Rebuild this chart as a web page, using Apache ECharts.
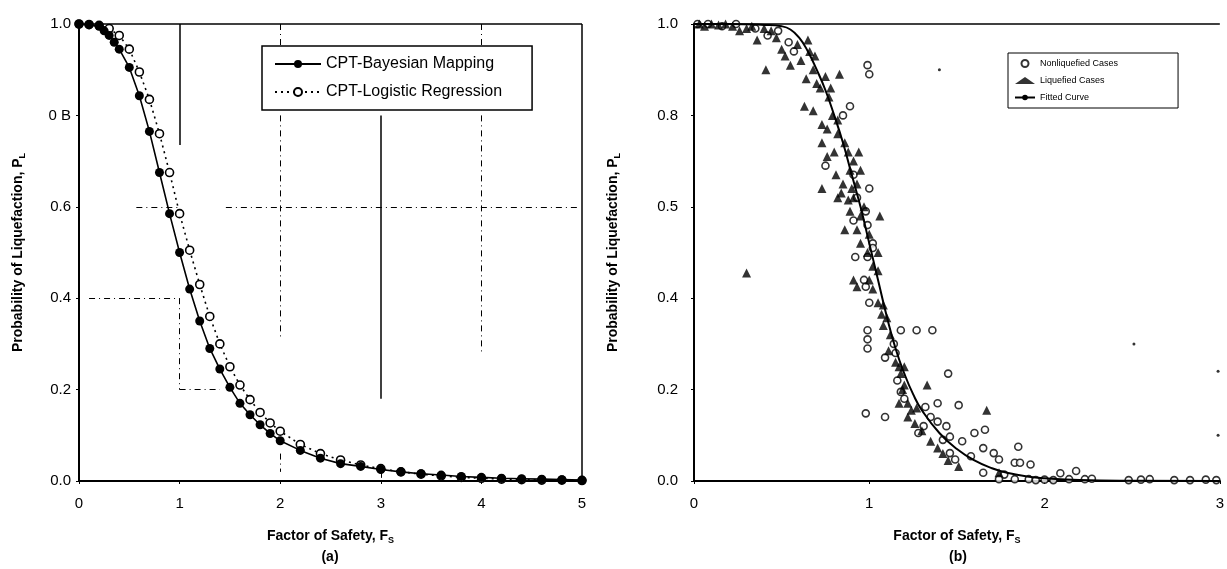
<!DOCTYPE html>
<html>
<head>
<meta charset="utf-8">
<script src="https://cdn.jsdelivr.net/npm/echarts@6/dist/echarts.min.js"></script>
<style>
html,body{margin:0;padding:0;background:#fff}
#chart{width:1227px;height:569px}
</style>
</head>
<body>
<div id="chart"></div>
<script>
// panel (a): CPT-Bayesian mapping vs logistic regression
const bayesFs = [0,0.1,0.2,0.25,0.3,0.35,0.4,0.5,0.6,0.7,0.8,0.9,1.0,1.1,1.2,1.3,1.4,1.5,1.6,1.7,1.8,1.9,2.0,2.2,2.4,2.6,2.8,3.0,3.2,3.4,3.6,3.8,4.0,4.2,4.4,4.6,4.8,5.0];
const bayesPl = [1.0,0.998,0.995,0.985,0.975,0.96,0.945,0.905,0.843,0.765,0.675,0.585,0.5,0.42,0.35,0.29,0.245,0.205,0.17,0.145,0.123,0.104,0.088,0.067,0.05,0.038,0.032,0.025,0.02,0.016,0.013,0.01,0.008,0.006,0.005,0.004,0.003,0.002];
const logFs = [0,0.1,0.2,0.3,0.4,0.5,0.6,0.7,0.8,0.9,1.0,1.1,1.2,1.3,1.4,1.5,1.6,1.7,1.8,1.9,2.0,2.2,2.4,2.6,2.8,3.0,3.2,3.4,3.6,3.8,4.0,4.2,4.4,4.6,4.8,5.0];
const logPl = [1.0,0.999,0.997,0.99,0.975,0.945,0.895,0.835,0.76,0.675,0.585,0.505,0.43,0.36,0.3,0.25,0.21,0.178,0.15,0.127,0.109,0.08,0.06,0.046,0.035,0.027,0.02,0.015,0.011,0.008,0.006,0.004,0.003,0.002,0.002,0.001];
const xTicksA = ['0','1','2','3','4','5'];
const yTicksA = ['0.0','0.2','0.4','0.6','0 B','1.0'];
// scanned grid fragments in (a), data coords [fs1, pl1, fs2, pl2]
const solidSegsA = [[0,1,5,1],[5,1,5,0],[3,0.8,3,0.18],[1,1,1,0.735]];
const dashedSegsA = [[0.57,0.6,1,0.6],[1.46,0.6,4.95,0.6],[0.1,0.4,1,0.4],[1,0.4,1,0.2],[1,0.2,1.4,0.2],[2,1,2,0.95],[2,0.8,2,0.31],[2,0.06,2,0.02],[4,1,4,0.95],[4,0.8,4,0.28],[3,0.02,3,0]];

// panel (b): case histories and fitted curve
const liquefied = [[0.03,1],[0.06,0.995],[0.1,1],[0.14,0.998],[0.18,1],[0.22,0.995],[0.26,0.985],[0.3,0.99],[0.33,0.995],[0.36,0.965],[0.4,0.99],[0.44,0.985],[0.47,0.97],[0.5,0.945],[0.52,0.93],[0.55,0.91],[0.59,0.955],[0.61,0.92],[0.65,0.965],[0.66,0.94],[0.69,0.93],[0.68,0.9],[0.64,0.88],[0.41,0.9],[0.63,0.82],[0.68,0.81],[0.72,0.86],[0.75,0.885],[0.78,0.86],[0.83,0.89],[0.77,0.84],[0.82,0.79],[0.73,0.78],[0.76,0.77],[0.73,0.74],[0.82,0.76],[0.8,0.72],[0.88,0.72],[0.94,0.72],[0.91,0.7],[0.76,0.71],[0.89,0.68],[0.95,0.68],[0.81,0.67],[0.73,0.64],[0.85,0.65],[0.93,0.65],[0.84,0.63],[0.91,0.62],[0.88,0.615],[0.82,0.62],[0.89,0.59],[0.95,0.58],[1.06,0.58],[0.86,0.55],[0.93,0.55],[1.0,0.54],[0.95,0.52],[1.05,0.5],[1.02,0.47],[1.05,0.46],[0.91,0.44],[1.02,0.42],[1.0,0.44],[0.93,0.425],[1.07,0.365],[1.1,0.357],[1.08,0.34],[1.11,0.285],[1.17,0.25],[1.2,0.25],[1.18,0.235],[1.2,0.21],[1.33,0.21],[1.17,0.17],[1.22,0.17],[1.27,0.16],[1.67,0.155],[1.22,0.14],[1.26,0.126],[1.35,0.087],[1.39,0.072],[1.51,0.032],[1.74,0.018],[1.05,0.39],[1.08,0.385],[0.3,0.455],[0.7,0.87],[0.79,0.8],[0.86,0.74],[0.9,0.64],[0.97,0.6],[0.99,0.5],[1.12,0.32],[1.15,0.26],[1.19,0.2],[1.24,0.155],[1.3,0.11],[1.42,0.06],[1.45,0.045]];
const nonLiquefied = [[0.02,1],[0.08,1],[0.16,0.995],[0.24,1],[0.35,0.99],[0.42,0.975],[0.48,0.985],[0.54,0.96],[0.57,0.94],[1.0,0.89],[0.99,0.91],[0.89,0.82],[0.85,0.8],[0.75,0.69],[0.91,0.67],[1.0,0.64],[0.93,0.62],[0.98,0.59],[0.91,0.57],[0.99,0.56],[1.02,0.52],[1.02,0.51],[0.99,0.49],[0.92,0.49],[0.97,0.44],[0.98,0.425],[1.0,0.39],[1.18,0.33],[1.27,0.33],[1.36,0.33],[0.99,0.33],[0.99,0.31],[0.99,0.29],[1.14,0.3],[1.09,0.27],[1.15,0.28],[1.45,0.235],[1.16,0.22],[1.18,0.195],[1.2,0.18],[1.32,0.162],[1.39,0.17],[1.51,0.166],[0.98,0.148],[1.09,0.14],[1.35,0.14],[1.39,0.13],[1.31,0.12],[1.44,0.12],[1.28,0.105],[1.6,0.105],[1.66,0.112],[1.42,0.09],[1.46,0.097],[1.53,0.087],[1.46,0.061],[1.49,0.047],[1.58,0.054],[1.65,0.072],[1.71,0.061],[1.74,0.047],[1.83,0.04],[1.85,0.075],[1.86,0.04],[1.92,0.036],[1.65,0.018],[1.77,0.014],[1.74,0.004],[1.83,0.004],[1.91,0.004],[2.09,0.017],[2.18,0.022],[2.14,0.004],[2.23,0.004],[2.27,0.005],[2.48,0.002],[2.55,0.003],[2.6,0.004],[2.74,0.002],[2.83,0.002],[2.92,0.003],[2.98,0.002],[2.0,0.003],[2.05,0.002],[1.95,0.002]];
const specks = [[1.4,0.9],[2.51,0.3],[2.99,0.24],[2.99,0.1]];
const fitFs = [0,0.2,0.4,0.5,0.55,0.6,0.65,0.7,0.75,0.8,0.85,0.9,0.95,1.0,1.05,1.1,1.15,1.2,1.25,1.3,1.4,1.5,1.6,1.7,1.8,1.9,2.0,2.2,2.5,3.0];
const fitPl = [1,1,0.998,0.995,0.988,0.97,0.94,0.9,0.855,0.8,0.74,0.67,0.6,0.52,0.44,0.36,0.29,0.235,0.19,0.155,0.105,0.07,0.045,0.028,0.017,0.01,0.006,0.002,0.0005,0];
const xTicksB = ['0','1','2','3'];
const yTicksB = ['0.0','0.2','0.4','0.5','0.8','1.0'];
const topSegB = [[0,1,3,1]];

const FONT = '"Liberation Sans", Arial, sans-serif';
const pairs = (xs, ys) => xs.map((x, i) => [x, ys[i]]);
const segs = (list) => list.map(s => [{coord: [s[0], s[1]]}, {coord: [s[2], s[3]]}]);
const tickFmt = (labels, step) => v => labels[Math.round(v / step)];

const axisCommon = {
  axisLine: {show: true, lineStyle: {color: '#000', width: 2}},
  axisTick: {show: true, length: 3, lineStyle: {color: '#000'}},
  splitLine: {show: false},
  axisLabel: {color: '#000', fontFamily: FONT, fontSize: 15},
  nameTextStyle: {color: '#000', fontFamily: FONT}
};
const subRich = {
  m: {fontSize: 14, fontWeight: 'bold', fontFamily: FONT, color: '#000'},
  s: {fontSize: 9, fontWeight: 'bold', fontFamily: FONT, color: '#000', padding: [9, 0, 0, 0]}
};
const yName = {
  name: '{m|Probability of Liquefaction, P}{s|L}',
  nameLocation: 'middle',
  nameTextStyle: {color: '#000', fontFamily: FONT, rich: subRich}
};
const xName = {
  name: '{m|Factor of Safety, F}{s|S}',
  nameLocation: 'middle',
  nameGap: 46,
  nameTextStyle: {color: '#000', fontFamily: FONT, rich: subRich}
};

const chart = echarts.init(document.getElementById('chart'));
chart.setOption({
  backgroundColor: '#fff',
  animation: false,
  grid: [
    {left: 79, right: 645, top: 24, bottom: 88},
    {left: 694, right: 5, top: 24, bottom: 88}
  ],
  xAxis: [
    Object.assign({}, axisCommon, xName, {gridIndex: 0, type: 'value', min: 0, max: 5, interval: 1,
      axisLabel: Object.assign({}, axisCommon.axisLabel, {margin: 15, formatter: tickFmt(xTicksA, 1)})}),
    Object.assign({}, axisCommon, xName, {gridIndex: 1, type: 'value', min: 0, max: 3, interval: 1,
      axisLabel: Object.assign({}, axisCommon.axisLabel, {margin: 15, formatter: tickFmt(xTicksB, 1)})})
  ],
  yAxis: [
    Object.assign({}, axisCommon, yName, {gridIndex: 0, type: 'value', min: 0, max: 1, interval: 0.2, nameGap: 52,
      axisLabel: Object.assign({}, axisCommon.axisLabel, {margin: 8, formatter: tickFmt(yTicksA, 0.2)})}),
    Object.assign({}, axisCommon, yName, {gridIndex: 1, type: 'value', min: 0, max: 1, interval: 0.2, nameGap: 72,
      axisLabel: Object.assign({}, axisCommon.axisLabel, {margin: 16, formatter: tickFmt(yTicksB, 0.2)})})
  ],
  legend: [
    {
      data: ['CPT-Bayesian Mapping', 'CPT-Logistic Regression'],
      left: 262, top: 46, orient: 'vertical',
      padding: [10, 30, 10, 12], itemGap: 12, itemWidth: 46, itemHeight: 10,
      backgroundColor: '#fff', borderColor: '#000', borderWidth: 1.5,
      textStyle: {color: '#000', fontFamily: FONT, fontSize: 16}
    },
    {
      data: ['Nonliquefied Cases', 'Liquefied Cases', 'Fitted Curve'],
      left: 1008, top: 53, orient: 'vertical',
      padding: [6, 60, 6, 6], itemGap: 8, itemWidth: 20, itemHeight: 7,
      backgroundColor: '#fff', borderColor: '#000', borderWidth: 1,
      textStyle: {color: '#000', fontFamily: FONT, fontSize: 9}
    }
  ],
  graphic: [
    {type: 'text', x: 330, y: 557, style: {text: '(a)', textAlign: 'center', textVerticalAlign: 'middle', font: 'bold 14px ' + FONT, fill: '#000'}},
    {type: 'text', x: 958, y: 557, style: {text: '(b)', textAlign: 'center', textVerticalAlign: 'middle', font: 'bold 14px ' + FONT, fill: '#000'}}
  ],
  series: [
    {
      name: 'CPT-Logistic Regression', type: 'line', xAxisIndex: 0, yAxisIndex: 0,
      data: pairs(logFs, logPl), symbol: 'circle', symbolSize: 8,
      itemStyle: {color: '#fff', borderColor: '#000', borderWidth: 1.6},
      lineStyle: {color: '#000', width: 1.6, type: [2, 4]},
      markLine: {
        silent: true, symbol: 'none', label: {show: false},
        lineStyle: {color: '#000', width: 1, type: [6, 4, 1, 4]},
        data: segs(dashedSegsA)
      },
      z: 3
    },
    {
      name: 'CPT-Bayesian Mapping', type: 'line', xAxisIndex: 0, yAxisIndex: 0,
      data: pairs(bayesFs, bayesPl), symbol: 'circle', symbolSize: 9,
      itemStyle: {color: '#000'},
      lineStyle: {color: '#000', width: 1.6},
      markLine: {
        silent: true, symbol: 'none', label: {show: false},
        lineStyle: {color: '#000', width: 1.5, type: 'solid'},
        data: segs(solidSegsA)
      },
      z: 4
    },
    {
      name: 'Nonliquefied Cases', type: 'scatter', xAxisIndex: 1, yAxisIndex: 1,
      data: nonLiquefied, symbol: 'circle', symbolSize: 7,
      itemStyle: {color: '#fff', borderColor: '#000', borderWidth: 1.6}
    },
    {
      name: 'Liquefied Cases', type: 'scatter', xAxisIndex: 1, yAxisIndex: 1,
      data: liquefied, symbol: 'triangle', symbolSize: 9,
      itemStyle: {color: '#000'}
    },
    {
      name: 'specks', type: 'scatter', xAxisIndex: 1, yAxisIndex: 1,
      data: specks, symbol: 'circle', symbolSize: 3, itemStyle: {color: '#000'}
    },
    {
      name: 'Fitted Curve', type: 'line', xAxisIndex: 1, yAxisIndex: 1,
      data: pairs(fitFs, fitPl), symbol: 'none', smooth: true,
      itemStyle: {color: '#000'},
      lineStyle: {color: '#000', width: 2},
      markLine: {
        silent: true, symbol: 'none', label: {show: false},
        lineStyle: {color: '#000', width: 1.5, type: 'solid'},
        data: segs(topSegB)
      },
      z: 5
    }
  ]
});
window.addEventListener('resize', () => chart.resize());
</script>
</body>
</html>
